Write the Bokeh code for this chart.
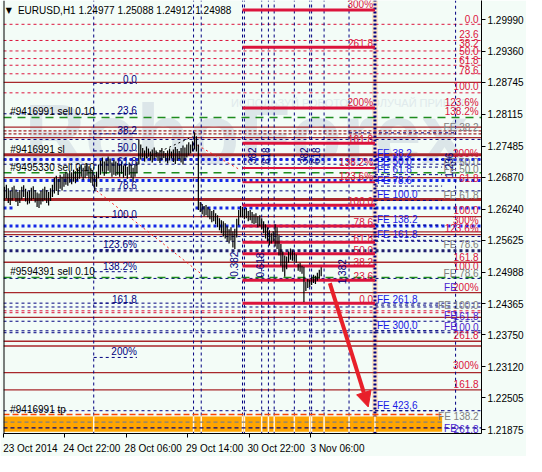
import math
from bokeh.plotting import figure
from bokeh.models import FixedTicker, PrintfTickFormatter, Label, Span, Arrow, NormalHead, Range1d
from bokeh.core.properties import value
from bokeh.embed import file_html
from bokeh.resources import INLINE

# ------------------------------------------------------------------ data
title_text = "EURUSD,H1  1.24977 1.25088 1.24912 1.24988"
last_price = 1.24988
price_ticks = [1.29990, 1.29360, 1.28745, 1.28115, 1.27485, 1.26870, 1.26240,
               1.25625, 1.24365, 1.23750, 1.23120, 1.22505, 1.21875]
time_tick_bars = [0, 32, 64, 96, 128, 160]
time_tick_labels = ["23 Oct 2014", "24 Oct 22:00", "28 Oct 06:00",
                    "29 Oct 14:00", "30 Oct 22:00", "3 Nov 06:00"]

bar_high = [
    1.2668, 1.2672, 1.2665, 1.2660, 1.2667, 1.2670, 1.2663, 1.2658, 1.2662, 1.2668,
    1.2671, 1.2664, 1.2659, 1.2661, 1.2666, 1.2669, 1.2662, 1.2657, 1.2655, 1.2660,
    1.2664, 1.2668, 1.2662, 1.2658, 1.2665, 1.2672,
    1.2686, 1.2690, 1.2684, 1.2692, 1.2688, 1.2694,
    1.2698, 1.2695, 1.2700, 1.2697, 1.2702, 1.2699, 1.2705,
    1.2708, 1.2712, 1.2706, 1.2710, 1.2714, 1.2709, 1.2705, 1.2700,
    1.2692, 1.2698,
    1.2712, 1.2720, 1.2726, 1.2718, 1.2722, 1.2728, 1.2724, 1.2716, 1.2721, 1.2718,
    1.2715, 1.2712, 1.2718, 1.2710, 1.2714, 1.2708, 1.2716, 1.2711, 1.2706, 1.2712, 1.2718,
    1.2762,
    1.2752, 1.2745, 1.2740, 1.2748, 1.2744, 1.2738, 1.2742, 1.2746, 1.2740, 1.2736,
    1.2741, 1.2745, 1.2739, 1.2735, 1.2740, 1.2744, 1.2738, 1.2742, 1.2747, 1.2743,
    1.2739, 1.2745, 1.2750, 1.2746, 1.2752, 1.2756, 1.2752, 1.2758,
    1.2776, 1.2768, 1.2752,
    1.2638, 1.2634, 1.2630, 1.2632,
    1.2628, 1.2624, 1.2620, 1.2622, 1.2616, 1.2612, 1.2606, 1.2602,
    1.2600, 1.2596, 1.2590, 1.2584, 1.2588, 1.2580,
    1.2585, 1.2605, 1.2622, 1.2630,
    1.2628, 1.2624, 1.2626, 1.2620, 1.2622, 1.2618, 1.2614, 1.2616, 1.2610, 1.2612, 1.2606, 1.2600,
    1.2594, 1.2588, 1.2582, 1.2576, 1.2580,
    1.2594, 1.2588,
    1.2572, 1.2555, 1.2540, 1.2532,
    1.2530, 1.2540, 1.2546, 1.2542, 1.2538, 1.2534,
    1.2516, 1.2518, 1.2512,
    1.2510,
    1.2480, 1.2486, 1.2484, 1.2490, 1.2494, 1.2492, 1.2498, 1.2504, 1.2509,
]
bar_low = [
    1.2640, 1.2645, 1.2636, 1.2632, 1.2641, 1.2646, 1.2638, 1.2630, 1.2636, 1.2643,
    1.2648, 1.2639, 1.2633, 1.2635, 1.2641, 1.2644, 1.2637, 1.2628, 1.2626, 1.2633,
    1.2639, 1.2642, 1.2636, 1.2631, 1.2640, 1.2648,
    1.2655, 1.2660, 1.2652, 1.2664, 1.2661, 1.2668,
    1.2672, 1.2670, 1.2676, 1.2673, 1.2678, 1.2675, 1.2680,
    1.2684, 1.2688, 1.2682, 1.2686, 1.2690, 1.2684, 1.2676, 1.2670,
    1.2660, 1.2668,
    1.2685, 1.2692, 1.2698, 1.2690, 1.2694, 1.2700, 1.2696, 1.2688, 1.2692, 1.2690,
    1.2692, 1.2688, 1.2694, 1.2686, 1.2690, 1.2684, 1.2692, 1.2686, 1.2678, 1.2688, 1.2695,
    1.2712,
    1.2722, 1.2726, 1.2718, 1.2724, 1.2728, 1.2720, 1.2716, 1.2722, 1.2726, 1.2719,
    1.2715, 1.2721, 1.2725, 1.2718, 1.2714, 1.2720, 1.2724, 1.2717, 1.2713, 1.2719,
    1.2723, 1.2716, 1.2712, 1.2720, 1.2726, 1.2730, 1.2734, 1.2738,
    1.2742, 1.2738, 1.2622,
    1.2618, 1.2614, 1.2610, 1.2612,
    1.2608, 1.2604, 1.2598, 1.2600, 1.2594, 1.2588, 1.2582, 1.2576,
    1.2570, 1.2566, 1.2560, 1.2556, 1.2562, 1.2548,
    1.2545, 1.2568, 1.2592, 1.2608,
    1.2608, 1.2604, 1.2606, 1.2600, 1.2602, 1.2596, 1.2594, 1.2596, 1.2588, 1.2590, 1.2584, 1.2576,
    1.2566, 1.2560, 1.2552, 1.2556, 1.2560,
    1.2550, 1.2545,
    1.2532, 1.2512, 1.2500, 1.2490,
    1.2505, 1.2518, 1.2524, 1.2522, 1.2520, 1.2518,
    1.2502, 1.2500, 1.2496,
    1.2440,
    1.2462, 1.2468, 1.2470, 1.2474, 1.2478, 1.2476, 1.2482, 1.2486, 1.2491,
]

# horizontal levels (prices)
darkred_levels = [1.28747, 1.27862, 1.27655, 1.26864, 1.26092, 1.25791, 1.25734,
                  1.25188, 1.24586, 1.24096, 1.23625, 1.23531, 1.23004, 1.22665]
darkred_thick_levels = [1.27316, 1.26431]
darkred_dash_levels = [1.27787, 1.27730]
crimson_dash_levels = [1.29896, 1.29576, 1.29369, 1.29218, 1.29086, 1.28917,
                       1.28540, 1.27222, 1.24228, 1.24190]
navy_dash_levels = [1.27618, 1.27128, 1.26601, 1.25697, 1.25603, 1.24868,
                    1.24379, 1.24303, 1.24021, 1.23832, 1.23794, 1.22251]
box_dash_levels = [1.27749]
blue_dot_levels = [1.27222, 1.26808, 1.25904]
blue_dot_partial_levels = [1.26262]
navy_dot_levels = [1.25414]
green_levels = [1.28051, 1.26958, 1.24887]
order_sell_level = [1.28126]
tp_level = [1.22176]
zone_bottom, zone_top = 1.21837, 1.22138
zone_gray_level = [1.22025]
zone_navy_level = [1.21912]

# fibonacci expansion (crimson, middle)
fib_levels = [1.30178, 1.29444, 1.28239, 1.27542, 1.27053, 1.26770, 1.26318,
              1.25904, 1.25584, 1.25358, 1.25113, 1.24831, 1.24379]
fib_labels = ["300%", "261.8", "200%", "161.8", "138.2%", "123.6%", "100.0",
              "78.6", "61.8", "50.0", "38.2", "23.6", "0.0"]
fib_widths = [3, 3, 3, 3, 2, 2, 3, 3, 3, 3, 3, 3, 3]

# fibonacci retracement (navy, left)
left_fib_levels = [1.28728, 1.28126, 1.27730, 1.27391, 1.27109, 1.26639,
                   1.26073, 1.25433, 1.25001, 1.24379, 1.23305]
left_fib_labels = ["0.0", "23.6", "38.2", "50.0", "61.8", "78.6", "100.0",
                   "123.6%", "138.2%", "161.8", "200%"]

# FE levels (blue)
fe_levels = [1.27222, 1.27071, 1.26921, 1.26695, 1.26412, 1.25923, 1.25622,
             1.24341, 1.23832, 1.22251]
fe_labels = ["FE 38.2", "FE 50.0", "FE 61.8", "FE 78.6", "FE 100.0", "FE 138.2",
             "FE 161.8", "FE 261.8", "FE 300,0", "FE 423,6"]

# right-edge labels
right_texts = ["0.0", "23.6", "38.2", "50.0", "61.8", "78.6", "100.0", "123.6%",
               "138.2%", "FE 38.2", "200%", "FE 50.0", "FE 50.0", "61.8", "FE 61.8",
               "100.0", "300%", "123.6%", "FE 78.6", "161.8", "100.0", "FE 78.6",
               "200%", "FE 100.0", "161.8", "100.0", "261.8", "300%", "161.8",
               "FE 138.2", "261.8"]
right_prices = [1.30009, 1.29708, 1.29519, 1.29369, 1.29199, 1.28992, 1.28672, 1.28352,
                1.28164, 1.27862, 1.27335, 1.27166, 1.27015, 1.26846, 1.26507,
                1.26224, 1.26017, 1.25848, 1.25546, 1.25301, 1.25113, 1.24962,
                1.24680, 1.24341, 1.24134, 1.23908, 1.23757, 1.23136, 1.22778,
                1.22138, 1.21893]
right_kinds = ["c", "c", "c", "c", "c", "c", "c", "c", "c", "g", "c", "g", "g", "c", "g",
               "c", "c", "c", "g", "c", "c", "g", "c", "g", "p", "p", "c", "c", "c",
               "g", "p"]
fe_prefix_prices = [1.24680, 1.24134, 1.23908, 1.21893]

# order labels
order_texts = ["#9416991 sell 0.10", "#9416991 sl", "#9495330 sell 0.10",
               "#9594391 sell 0.10", "#9416991 tp"]
order_prices = [1.28164, 1.27410, 1.27053, 1.25001, 1.22270]

# time fibonacci lines (bar positions) and vertical labels
vline_bars = [47, 99, 103, 124.5, 125.5, 134.5, 138, 141, 151.5, 159.5, 160.5, 167, 180]
box_vline_bar = 235.5
main_vline_bar = 193.5
vtexts = ["0.382", "0.618", "382", "618", "382", "618", "1.382", "1.236"]
vtext_bars = [120, 133.5, 129.5, 137, 156.5, 163, 176.5, 232]
vtext_prices = [1.25151, 1.25132, 1.27297, 1.27297, 1.27297, 1.27297, 1.25001, 1.27109]

# trend lines (bar, price) pairs
trend_black = ([74.5, 98.5], [1.27259, 1.27673])
trend_red1 = ([101, 122.5], [1.27504, 1.27033])
trend_red2 = ([48.5, 103.5], [1.26601, 1.24943])
arrow_from = (170, 1.24774)
arrow_to = (190, 1.22326)

# ------------------------------------------------------------------ style
FONT = "Liberation Sans"
BG = "#F3FCF7"
CRIMSON = "#DC143C"
DARKRED = "#A8282C"
NAVY = "#000080"
BLUE = "#1A1AE6"
GREEN = "#1E8C1E"
GRAY = "#808080"
PURPLE = "#4A1CD0"
RED = "#E8202A"
X0, X1 = 0, 249
Y0, Y1 = 1.21800, 1.30367
LABEL_SHIFT = 14  # bars: moves centred tick labels so they start at their tick

p = figure(width=526, height=456, x_range=Range1d(X0, X1), y_range=Range1d(Y0, Y1),
           y_axis_location="right", output_backend="svg", toolbar_location=None,
           background_fill_color=BG, border_fill_color=BG, outline_line_color=None,
           min_border_left=3, min_border_top=0, min_border_right=0, min_border_bottom=0)
p.xgrid.visible = False
p.ygrid.visible = False

# watermark
p.text(x=[11], y=[1.27730], text=["RoboForex"], text_font=value(FONT),
       text_font_style="bold", text_font_size="84px", text_color="#DCE6E9",
       text_baseline="alphabetic", level="underlay")
p.text(x=[118.5, 187.5], y=[1.28333, 1.28333], text=["ИСПОЛЬЗУЙ РОБОТОВ", "ПОЛУЧАЙ ПРИБЫЛЬ"],
       text_font=value(FONT), text_font_size="11px", text_color="#E0EAEC",
       text_baseline="middle", level="underlay")

# beige band
p.quad(left=[192], right=[195], bottom=[Y0], top=[Y1], color="#FBE3C9", line_width=0)


def hl(levels, xa, xb, color, width, dash="solid"):
    p.segment(x0=[xa] * len(levels), x1=[xb] * len(levels), y0=levels, y1=levels,
              line_color=color, line_width=width, line_dash=dash)


hl(crimson_dash_levels, X0, X1, CRIMSON, 1, "3 3")
hl(navy_dash_levels, X0, X1, NAVY, 1, "3 3")
hl(box_dash_levels, 180, 235.5, NAVY, 1, "3 3")
hl(order_sell_level, X0, 69.5, NAVY, 1, "3 3")
hl(darkred_levels, X0, X1, DARKRED, 1.3)
hl(darkred_thick_levels, X0, X1, DARKRED, 3)
hl(darkred_dash_levels, X0, X1, DARKRED, 1.3, "3 2")
hl(blue_dot_levels, X0, X1, "#1428E6", 3, "3 3")
hl(blue_dot_partial_levels, X0, 5, "#1428E6", 3, "3 3")
hl(blue_dot_partial_levels, 100, X1, "#1428E6", 3, "3 3")
hl(navy_dot_levels, X0, X1, "#202070", 3, "3 3")
hl(green_levels, X0, X1, GREEN, 1.5, "8 6")
hl(left_fib_levels, 47, 69.5, NAVY, 1, "3 3")
hl(fe_levels, 193.5, 228.5, NAVY, 1, "3 3")

# vertical time lines
p.segment(x0=vline_bars, x1=vline_bars, y0=[Y0] * len(vline_bars), y1=[Y1] * len(vline_bars),
          line_color=NAVY, line_width=1, line_dash="3 3")
p.segment(x0=[box_vline_bar], x1=[box_vline_bar], y0=[1.22251], y1=[Y1],
          line_color=NAVY, line_width=1, line_dash="3 3")
p.segment(x0=[main_vline_bar], x1=[main_vline_bar], y0=[Y0], y1=[Y1],
          line_color=NAVY, line_width=3, line_dash="2 2")

# take-profit zone
p.quad(left=[X0], right=[228.5], bottom=[zone_bottom], top=[zone_top], color="#FFA500", line_width=0)
zone_gaps = vline_bars + [main_vline_bar]
p.segment(x0=zone_gaps, x1=zone_gaps, y0=[zone_bottom] * len(zone_gaps),
          y1=[zone_top] * len(zone_gaps), line_color="#FFF6E6", line_width=1.5)
hl(tp_level, X0, 228.5, "#FF4500", 1.3, "6 3")
hl(zone_gray_level, X0, 228.5, GRAY, 1.3, "4 3")
hl(zone_navy_level, X0, X1, NAVY, 1.3, "4 3")

# fibonacci expansion (thick crimson)
p.segment(x0=[124.5] * len(fib_levels), x1=[193.5] * len(fib_levels), y0=fib_levels, y1=fib_levels,
          line_color=CRIMSON, line_width=fib_widths)

# trend lines
p.line(trend_black[0], trend_black[1], line_color="black", line_dash="2 3", line_width=1)
p.line(trend_red1[0], trend_red1[1], line_color="#FF2020", line_dash="2 3", line_width=1)
p.line(trend_red2[0], trend_red2[1], line_color="#FF2020", line_dash="2 3", line_width=1)

# price bars
bar_x = [i + 0.5 for i in range(len(bar_high))]
p.segment(x0=bar_x, x1=bar_x, y0=bar_low, y1=bar_high, line_color="black", line_width=1.2)

# texts
p.text(x=[192.5] * len(fib_levels), y=fib_levels, text=fib_labels, text_color=CRIMSON,
       text_font=value(FONT), text_font_size="10px", text_align="right", text_baseline="bottom")
p.text(x=[69.5] * len(left_fib_levels), y=left_fib_levels, text=left_fib_labels, text_color=NAVY,
       text_font=value(FONT), text_font_size="10px", text_align="right", text_baseline="bottom")
p.text(x=[194.5] * len(fe_levels), y=fe_levels, text=fe_labels, text_color=BLUE,
       text_font=value(FONT), text_font_size="10px", text_align="left", text_baseline="bottom")
kind_color = {"c": CRIMSON, "g": GRAY, "p": PURPLE}
p.text(x=[247.5] * len(right_texts), y=right_prices, text=right_texts,
       text_color=[kind_color[k] for k in right_kinds],
       text_font=value(FONT), text_font_size="10px", text_align="right", text_baseline="middle")
p.text(x=[229.5] * len(fe_prefix_prices), y=fe_prefix_prices, text=["FE"] * len(fe_prefix_prices),
       text_color=PURPLE, text_font=value(FONT), text_font_size="10px",
       text_align="left", text_baseline="middle")
p.text(x=[3.5] * len(order_texts), y=order_prices, text=order_texts, text_color="black",
       text_font=value(FONT), text_font_size="10px", text_align="left", text_baseline="middle")
p.text(x=vtext_bars, y=vtext_prices, text=vtexts, text_color=NAVY, angle=math.pi / 2,
       text_font=value(FONT), text_font_size="10px", text_align="center", text_baseline="middle")

# arrow
p.add_layout(Arrow(end=NormalHead(size=15, fill_color=RED, line_color=RED),
                   x_start=arrow_from[0], y_start=arrow_from[1],
                   x_end=arrow_to[0], y_end=arrow_to[1], line_color=RED, line_width=4))

# title
p.add_layout(Label(x=1.2, y=1.30178, text="▼", text_font="DejaVu Sans", text_font_size="8px",
                   text_baseline="middle", text_color="black"))
p.add_layout(Label(x=7.5, y=1.30178, text=title_text, text_font=FONT, text_font_size="10px",
                   text_baseline="middle", text_color="black"))

# left border
p.add_layout(Span(location=X0, dimension="height", line_color="black", line_width=2))

# axes (the current price is shown on the price scale as well)
p.yaxis.ticker = FixedTicker(ticks=sorted(price_ticks + [last_price]))
p.yaxis.formatter = PrintfTickFormatter(format="%.5f")
shifted = [t + LABEL_SHIFT for t in time_tick_bars]
p.xaxis.ticker = FixedTicker(ticks=shifted, minor_ticks=time_tick_bars)
p.xaxis.major_label_overrides = {s: l for s, l in zip(shifted, time_tick_labels)}
for ax in (p.xaxis[0], p.yaxis[0]):
    ax.axis_line_color = "black"
    ax.major_tick_line_color = "black"
    ax.major_tick_in = 0
    ax.major_tick_out = 4
    ax.minor_tick_line_color = None
    ax.major_label_text_font = FONT
    ax.major_label_text_font_size = "10px"
    ax.major_label_text_color = "black"
    ax.major_label_standoff = 2
p.xaxis.major_tick_out = 0
p.xaxis.minor_tick_line_color = "black"
p.xaxis.minor_tick_in = 0
p.xaxis.minor_tick_out = 4
p.xaxis.major_label_standoff = 5

# black box for the current price (drawn over the scale if the library allows it)
p.add_layout(Label(x=X1, y=last_price, x_offset=2, text="1.24988 ", level="overlay",
                   text_font=FONT, text_font_size="10px", text_color="white",
                   text_baseline="middle", background_fill_color="black"))

open("out.html", "w").write(file_html(p, INLINE))
